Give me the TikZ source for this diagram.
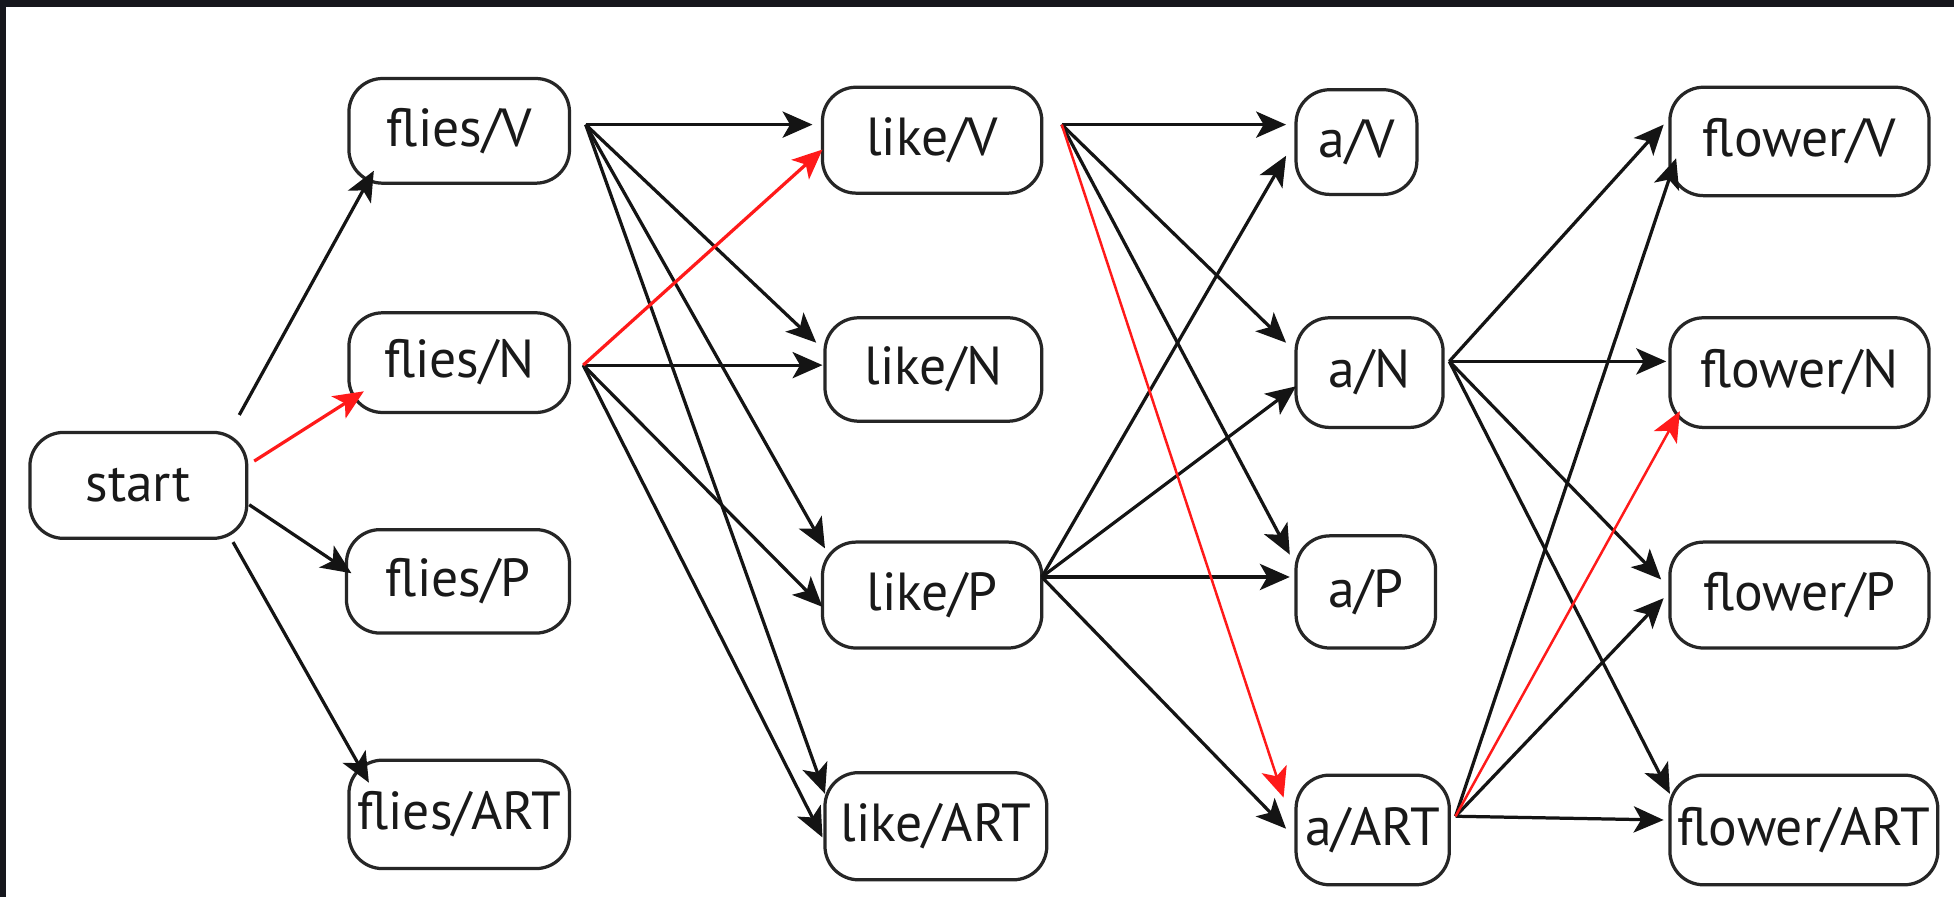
\documentclass[tikz,border=0pt]{standalone}
\usepackage{fontspec}
\setmainfont{PT Sans}
\usetikzlibrary{arrows.meta}
\definecolor{framec}{HTML}{16171D}
\definecolor{pathred}{HTML}{FF1A1A}
\tikzset{
  tag/.style={draw=black!85, line width=2.6pt, rounded corners=27pt, inner sep=0pt,
    font=\fontsize{43}{50}\selectfont, text=black!90},
  arc/.style={draw=black!92, line width=2.6pt, -{Stealth[length=24pt,width=21pt,inset=6pt]}},
  hot/.style={arc, draw=pathred, fill=pathred}
}
\begin{document}
\begin{tikzpicture}[x=1pt,y=-1pt]
\useasboundingbox (0,0) rectangle (1568,720);
\fill[white] (0,0) rectangle (1568,720);
\fill[framec] (0,0) rectangle (1568,5.4);
\fill[framec] (0,0) rectangle (4.8,720);

% nodes
\node[tag, minimum width=174pt, minimum height=85pt] (st) at (111,389.5) {start};
\node[tag, minimum width=177pt, minimum height=84pt] (fV) at (368.5,105) {flies/V};
\node[tag, minimum width=177pt, minimum height=80pt] (fN) at (368.5,291) {flies/N};
\node[tag, minimum width=179pt, minimum height=83pt] (fP) at (367.5,466.5) {flies/P};
\node[tag, minimum width=177pt, minimum height=87pt] (fA) at (368.5,653.5) {flies/ART};

\node[tag, minimum width=176pt, minimum height=85pt] (lV) at (748,112.5) {like/V};
\node[tag, minimum width=174pt, minimum height=83pt] (lN) at (749,296.5) {like/N};
\node[tag, minimum width=176pt, minimum height=85pt] (lP) at (748,477.5) {like/P};
\node[tag, minimum width=178pt, minimum height=86pt] (lA) at (751,663) {like/ART};

\node[tag, minimum width=97pt, minimum height=84pt] (aV) at (1088.5,114) {a/V};
\node[tag, minimum width=118pt, minimum height=88pt] (aN) at (1099,299) {a/N};
\node[tag, minimum width=112pt, minimum height=90pt] (aP) at (1096,475) {a/P};
\node[tag, minimum width=123pt, minimum height=88pt] (aA) at (1101.5,666) {a/ART};

\node[tag, minimum width=208pt, minimum height=87pt] (wV) at (1444,113.5) {flower/V};
\node[tag, minimum width=208pt, minimum height=88pt] (wN) at (1444,299) {flower/N};
\node[tag, minimum width=208pt, minimum height=85pt] (wP) at (1444,477.5) {flower/P};
\node[tag, minimum width=215pt, minimum height=88pt] (wA) at (1447.5,666) {flower/ART};

% origins of the connectors
\coordinate (stV) at ([shift={(81,-56.5)}]st.center);
\coordinate (stN) at ([shift={(93,-19.5)}]st.center);
\coordinate (stP) at ([shift={(89,15.5)}]st.center);
\coordinate (stA) at ([shift={(76,45.5)}]st.center);
\coordinate (fVo) at ([shift={(101.5,-5)}]fV.center);
\coordinate (fNo) at ([shift={(99.5,2)}]fN.center);
\coordinate (lVo) at ([shift={(104,-12.5)}]lV.center);
\coordinate (lPo) at ([shift={(88,-14.5)}]lP.center);
\coordinate (aNo) at ([shift={(64,-9)}]aN.center);
\coordinate (aAo) at ([shift={(66.5,-11)}]aA.center);

% start -> flies
\draw[arc] (stV) -- ([shift={(-68.5,32)}]fV.center);
\draw[hot] (stN) -- ([shift={(-76.5,23)}]fN.center);
\draw[arc] (stP) -- ([shift={(-85.5,-6.5)}]fP.center);
\draw[arc] (stA) -- ([shift={(-72.5,-25.5)}]fA.center);

% flies -> like
\draw[arc] (fVo) -- ([shift={(-96,-12.5)}]lV.center);
\draw[arc] (fVo) -- ([shift={(-94,-21.5)}]lN.center);
\draw[arc] (fVo) -- ([shift={(-86,-37.5)}]lP.center);
\draw[arc] (fVo) -- ([shift={(-89,-26)}]lA.center);
\draw[arc] (fNo) -- ([shift={(-89,-3.5)}]lN.center);
\draw[arc] (fNo) -- ([shift={(-88,9.5)}]lP.center);
\draw[arc] (fNo) -- ([shift={(-91,9)}]lA.center);
\draw[hot] (fNo) -- ([shift={(-88,7.5)}]lV.center);

% like -> a
\draw[arc] (lVo) -- ([shift={(-56.5,-14)}]aV.center);
\draw[arc] (lVo) -- ([shift={(-67,-24)}]aN.center);
\draw[arc] (lVo) -- ([shift={(-61,-30)}]aP.center);
\draw[arc] (lPo) -- ([shift={(-56.5,11)}]aV.center);
\draw[arc] (lPo) -- ([shift={(-59,11)}]aN.center);
\draw[arc] (lPo) -- ([shift={(-61,-12)}]aP.center);
\draw[arc] (lPo) -- ([shift={(-69.5,-1)}]aA.center);
\draw[hot, line width=2pt] (lVo) -- ([shift={(-71.5,-26)}]aA.center);

% a -> flower
\draw[arc] (aNo) -- ([shift={(-109,-13.5)}]wV.center);
\draw[arc] (aNo) -- ([shift={(-107,-9)}]wN.center);
\draw[arc] (aNo) -- ([shift={(-111,-12.5)}]wP.center);
\draw[arc] (aNo) -- ([shift={(-107.5,-29)}]wA.center);
\draw[arc] (aAo) -- ([shift={(-99,13.5)}]wV.center);
\draw[arc] (aAo) -- ([shift={(-109,2.5)}]wP.center);
\draw[arc] (aAo) -- ([shift={(-112.5,-8)}]wA.center);
\draw[hot, line width=2pt] (aAo) -- ([shift={(-96,31)}]wN.center);
\end{tikzpicture}
\end{document}
